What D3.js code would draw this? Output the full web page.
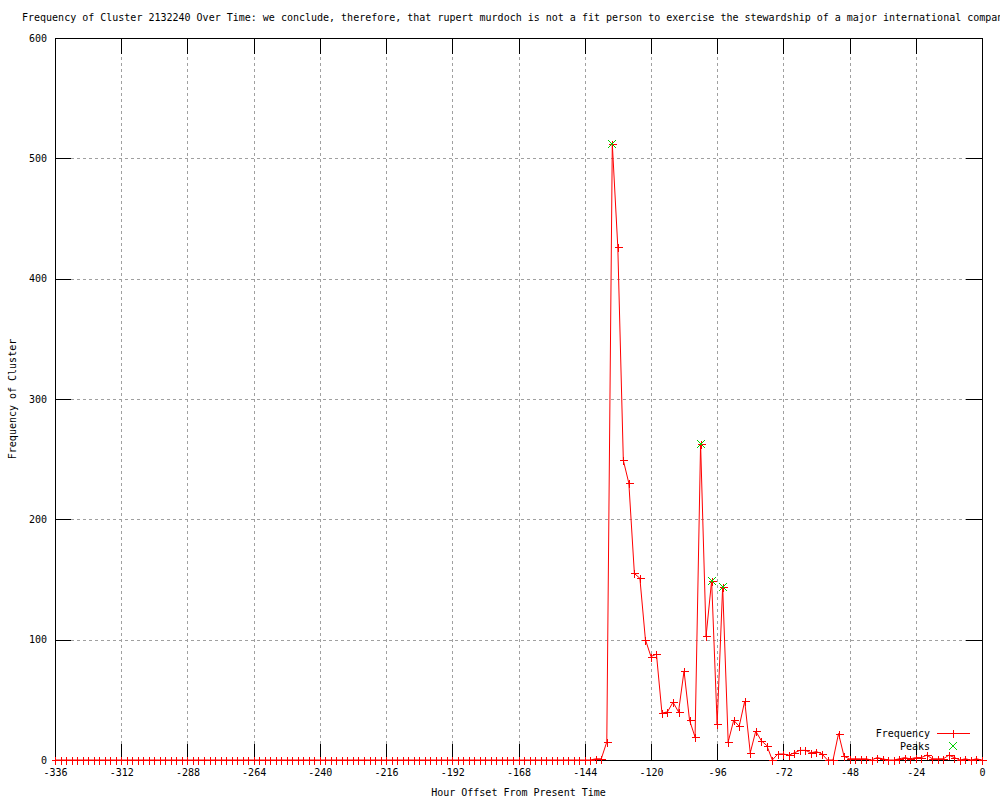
<!DOCTYPE html>
<html>
<head>
<meta charset="utf-8">
<script src="https://cdn.jsdelivr.net/npm/d3@7"></script>
<style>
  body { margin: 0; background: #fff; }
  text { font-family: "DejaVu Sans Mono", monospace; font-size: 10px; fill: #000; }
</style>
</head>
<body>
<div id="chart"></div>
<script>
const width = 1000;
const height = 800;
const margin = { top: 38, right: 18, bottom: 40, left: 55 };

const titleText = "Frequency of Cluster 2132240 Over Time: we conclude, therefore, that rupert murdoch is not a fit person to exercise the stewardship of a major international compan";

// hours run from -336 to 0 in steps of 2
const hours = d3.range(-336, 1, 2);
const frequency = [
    0, 0, 0, 0, 0, 0, 0, 0, 0, 0, 0, 0,
    0, 0, 0, 0, 0, 0, 0, 0, 0, 0, 0, 0,
    0, 0, 0, 0, 0, 0, 0, 0, 0, 0, 0, 0,
    0, 0, 0, 0, 0, 0, 0, 0, 0, 0, 0, 0,
    0, 0, 0, 0, 0, 0, 0, 0, 0, 0, 0, 0,
    0, 0, 0, 0, 0, 0, 0, 0, 0, 0, 0, 0,
    0, 0, 0, 0, 0, 0, 0, 0, 0, 0, 0, 0,
    0, 0, 0, 0, 0, 0, 0, 0, 0, 0, 0, 0,
    0, 0,
    1, 1, 15, 512, 426, 249, 230, 155, 151, 100, 86, 88,
    39, 40, 48, 40, 74, 33, 19, 263, 103, 149, 30, 144,
    15, 33, 28, 49, 6, 24, 16, 12, 0, 5, 5, 4,
    6, 8, 8, 6, 7, 5, 0, 0, 22, 3, 1, 1,
    1, 1, 0, 2, 1, 0, 0, 1, 2, 1, 2, 2,
    4, 1, 1, 1, 4, 2, 0, 1, 0, 1, 0
];

const peakHours = [-134, -102, -98, -94];
const peakValues = [512, 263, 149, 144];

const xTicks = d3.range(-336, 1, 24);
const yTicks = [0, 100, 200, 300, 400, 500, 600];

const points = hours.map((h, i) => ({ h: h, v: frequency[i] }));
const peaks = peakHours.map((h, i) => ({ h: h, v: peakValues[i] }));

const x = d3.scaleLinear().domain([-336, 0]).range([margin.left, width - margin.right]);
const y = d3.scaleLinear().domain([0, 600]).range([height - margin.bottom, margin.top]);

const svg = d3.select("#chart")
    .append("svg")
    .attr("width", width)
    .attr("height", height);

const tickLen = 16;

// grid (dotted, between the tick marks)
const grid = svg.append("g")
    .attr("stroke", "#a0a0a0")
    .attr("stroke-dasharray", "3,3")
    .attr("shape-rendering", "crispEdges");

grid.selectAll(".vgrid")
    .data(xTicks.slice(1, -1))
    .enter().append("line")
    .attr("x1", d => Math.round(x(d)) + 0.5)
    .attr("x2", d => Math.round(x(d)) + 0.5)
    .attr("y1", y(0) - tickLen)
    .attr("y2", y(600) + tickLen);

grid.selectAll(".hgrid")
    .data(yTicks.slice(1, -1))
    .enter().append("line")
    .attr("y1", d => Math.round(y(d)) + 0.5)
    .attr("y2", d => Math.round(y(d)) + 0.5)
    .attr("x1", x(-336) + tickLen)
    .attr("x2", x(0) - tickLen);

// axes via d3, with inner ticks
const xAxis = d3.axisBottom(x).tickValues(xTicks).tickSize(-tickLen).tickPadding(9).tickFormat(d => String(d));
const yAxis = d3.axisLeft(y).tickValues(yTicks).tickSize(-tickLen).tickPadding(8).tickFormat(d => String(d));
const xAxisTop = d3.axisTop(x).tickValues(xTicks).tickSize(-tickLen).tickFormat("");
const yAxisRight = d3.axisRight(y).tickValues(yTicks).tickSize(-tickLen).tickFormat("");

function styleAxis(g) {
    g.select(".domain").remove();
    g.selectAll("line").attr("stroke", "#000").attr("shape-rendering", "crispEdges");
    g.selectAll("text").attr("fill", "#000")
        .style("font-family", "'DejaVu Sans Mono', monospace")
        .style("font-size", "10px");
}

svg.append("g").attr("transform", `translate(0,${y(0)})`).call(xAxis).call(styleAxis);
svg.append("g").attr("transform", `translate(${x(-336)},0)`).call(yAxis).call(styleAxis);
svg.append("g").attr("transform", `translate(0,${y(600)})`).call(xAxisTop).call(styleAxis);
svg.append("g").attr("transform", `translate(${x(0)},0)`).call(yAxisRight).call(styleAxis);

// border
svg.append("rect")
    .attr("x", Math.round(x(-336)) + 0.5)
    .attr("y", Math.round(y(600)) + 0.5)
    .attr("width", Math.round(x(0)) - Math.round(x(-336)))
    .attr("height", Math.round(y(0)) - Math.round(y(600)))
    .attr("fill", "none")
    .attr("stroke", "#000")
    .attr("shape-rendering", "crispEdges");

// frequency line
const line = d3.line().x(d => x(d.h)).y(d => y(d.v));

svg.append("path")
    .datum(points)
    .attr("d", line)
    .attr("fill", "none")
    .attr("stroke", "#ff0000")
    .attr("stroke-width", 1);

function plus(sel, cx, cy, r) {
    sel.append("path")
        .attr("d", `M${cx - r},${cy}H${cx + r}M${cx},${cy - r}V${cy + r}`)
        .attr("stroke", "#ff0000")
        .attr("fill", "none")
        .attr("shape-rendering", "crispEdges");
}

function cross(sel, cx, cy, r) {
    sel.append("path")
        .attr("d", `M${cx - r},${cy - r}L${cx + r},${cy + r}M${cx - r},${cy + r}L${cx + r},${cy - r}`)
        .attr("stroke", "#00d000")
        .attr("stroke-width", 1.2)
        .attr("fill", "none")
        .attr("shape-rendering", "crispEdges");
}

const marks = svg.append("g");
points.forEach(d => plus(marks, Math.round(x(d.h)) + 0.5, Math.round(y(d.v)) + 0.5, 4));

const peakMarks = svg.append("g");
peaks.forEach(d => cross(peakMarks, Math.round(x(d.h)), Math.round(y(d.v)), 4));

// legend
const legend = svg.append("g");
legend.append("text").attr("x", 930).attr("y", 733).attr("dy", "0.35em")
    .attr("text-anchor", "end").text("Frequency");
legend.append("line")
    .attr("x1", 937).attr("x2", 970).attr("y1", 733.5).attr("y2", 733.5)
    .attr("stroke", "#ff0000").attr("shape-rendering", "crispEdges");
plus(legend, 953.5, 733.5, 4);
legend.append("text").attr("x", 930).attr("y", 746).attr("dy", "0.35em")
    .attr("text-anchor", "end").text("Peaks");
cross(legend, 953, 746, 4);

// title and axis labels
svg.append("text")
    .attr("x", 22)
    .attr("y", 21)
    .text(titleText);

svg.append("text")
    .attr("x", (x(-336) + x(0)) / 2)
    .attr("y", 796)
    .attr("text-anchor", "middle")
    .text("Hour Offset From Present Time");

svg.append("text")
    .attr("transform", `translate(16,${(y(0) + y(600)) / 2}) rotate(-90)`)
    .attr("text-anchor", "middle")
    .text("Frequency of Cluster");
</script>
</body>
</html>
